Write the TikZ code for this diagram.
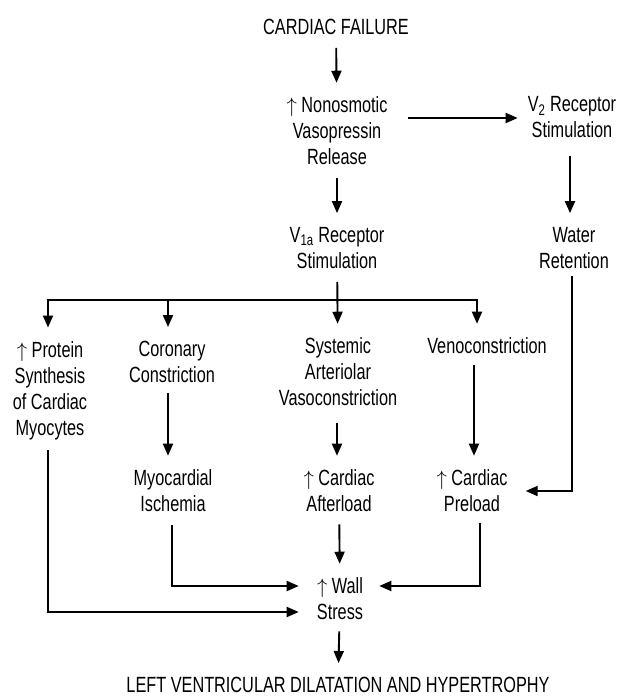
\documentclass[tikz,border=0pt]{standalone}
\usepackage{fontspec}
\setmainfont[FakeStretch=0.74]{Liberation Sans}
\usetikzlibrary{arrows.meta}
% a tall, thin "increase" arrow
\newcommand{\incr}{\(\uparrow\)}
\begin{document}
\begin{tikzpicture}[x=1pt,y=-1pt,
  lbl/.style={align=center,inner sep=0pt,font=\fontsize{22}{26}\selectfont},
  conn/.style={line width=1.9pt,line join=miter},
  arr/.style={conn,-{Triangle[length=12pt,width=10pt]},shorten <=13pt,shorten >=14pt}]
\useasboundingbox (0,0) rectangle (619,697);

% statements
\node[lbl] (cf)    at (336,27)  {CARDIAC FAILURE};
\node[lbl] (nono)  at (337,131) {\incr\ Nonosmotic\\Vasopressin\\Release};
\node[lbl] (v2)    at (572,117) {V\textsubscript{2} Receptor\\Stimulation};
\node[lbl] (water) at (574,248) {Water\\Retention};
\node[lbl] (v1a)   at (337,248) {V\textsubscript{1a} Receptor\\Stimulation};
\node[lbl] (prot)  at (50,391)  {\incr\ Protein\\Synthesis\\of Cardiac\\Myocytes};
\node[lbl] (cor)   at (172,362) {Coronary\\Constriction};
\node[lbl] (sys)   at (338,372) {Systemic\\Arteriolar\\Vasoconstriction};
\node[lbl] (veno)  at (487,346) {Venoconstriction};
\node[lbl] (myo)   at (173,491) {Myocardial\\Ischemia};
\node[lbl] (after) at (339,491) {\incr\ Cardiac\\Afterload};
\node[lbl] (pre)   at (472,491) {\incr\ Cardiac\\Preload};
\node[lbl] (wall)  at (340,599) {\incr\ Wall\\Stress};
\node[lbl] (lv)    at (338,685) {LEFT VENTRICULAR DILATATION AND HYPERTROPHY};

\coordinate (split) at (337,300);

% main chain
\draw[arr] (cf) -- (nono);
\draw[arr] (nono) -- (v1a);
\draw[arr,shorten <=20pt,shorten >=10pt] ([yshift=13pt]nono.east) -- ([yshift=13pt]nono.east -| v2.west);
\draw[arr,shorten <=18pt] ([xshift=-2pt]v2.south) -- ([xshift=-2pt]v2.south |- water.north);
\draw[arr] (v1a) -- (sys);

% branches of the V1a pathway
\draw[arr,shorten <=0pt] (split) -| ([xshift=-2pt]prot.north);
\draw[arr,shorten <=0pt] (split) -| ([xshift=-4pt]cor.north);
\draw[arr,shorten <=0pt] (split) -| ([xshift=-10pt]veno.north);

\draw[arr,shorten <=10pt] ([xshift=-4pt]cor.south) -- ([xshift=-4pt]cor.south |- myo.north);
\draw[arr,shorten <=17pt] ([xshift=-1pt]sys.south) -- ([xshift=-1pt]sys.south |- after.north);
\draw[arr,shorten <=11pt] ([xshift=-13pt]veno.south) -- ([xshift=-13pt]veno.south |- pre.north);

% feeds into wall stress
\draw[arr,shorten <=7pt,shorten >=18pt] ([xshift=-2pt]water.south) |- (pre.east);
\draw[arr,shorten <=12pt] (after) -- (wall);
\draw[arr,shorten >=18pt] ([xshift=-1pt]myo.south) |- ([yshift=13pt]wall.west);
\draw[arr,shorten <=10pt,shorten >=18pt] ([xshift=-2pt]prot.south) |- ([yshift=-13pt]wall.west);
\draw[arr,shorten <=11pt,shorten >=16pt] ([xshift=8pt]pre.south) |- ([yshift=13pt]wall.east);
\draw[arr,shorten <=11pt] (wall) -- (lv);
\end{tikzpicture}
\end{document}
